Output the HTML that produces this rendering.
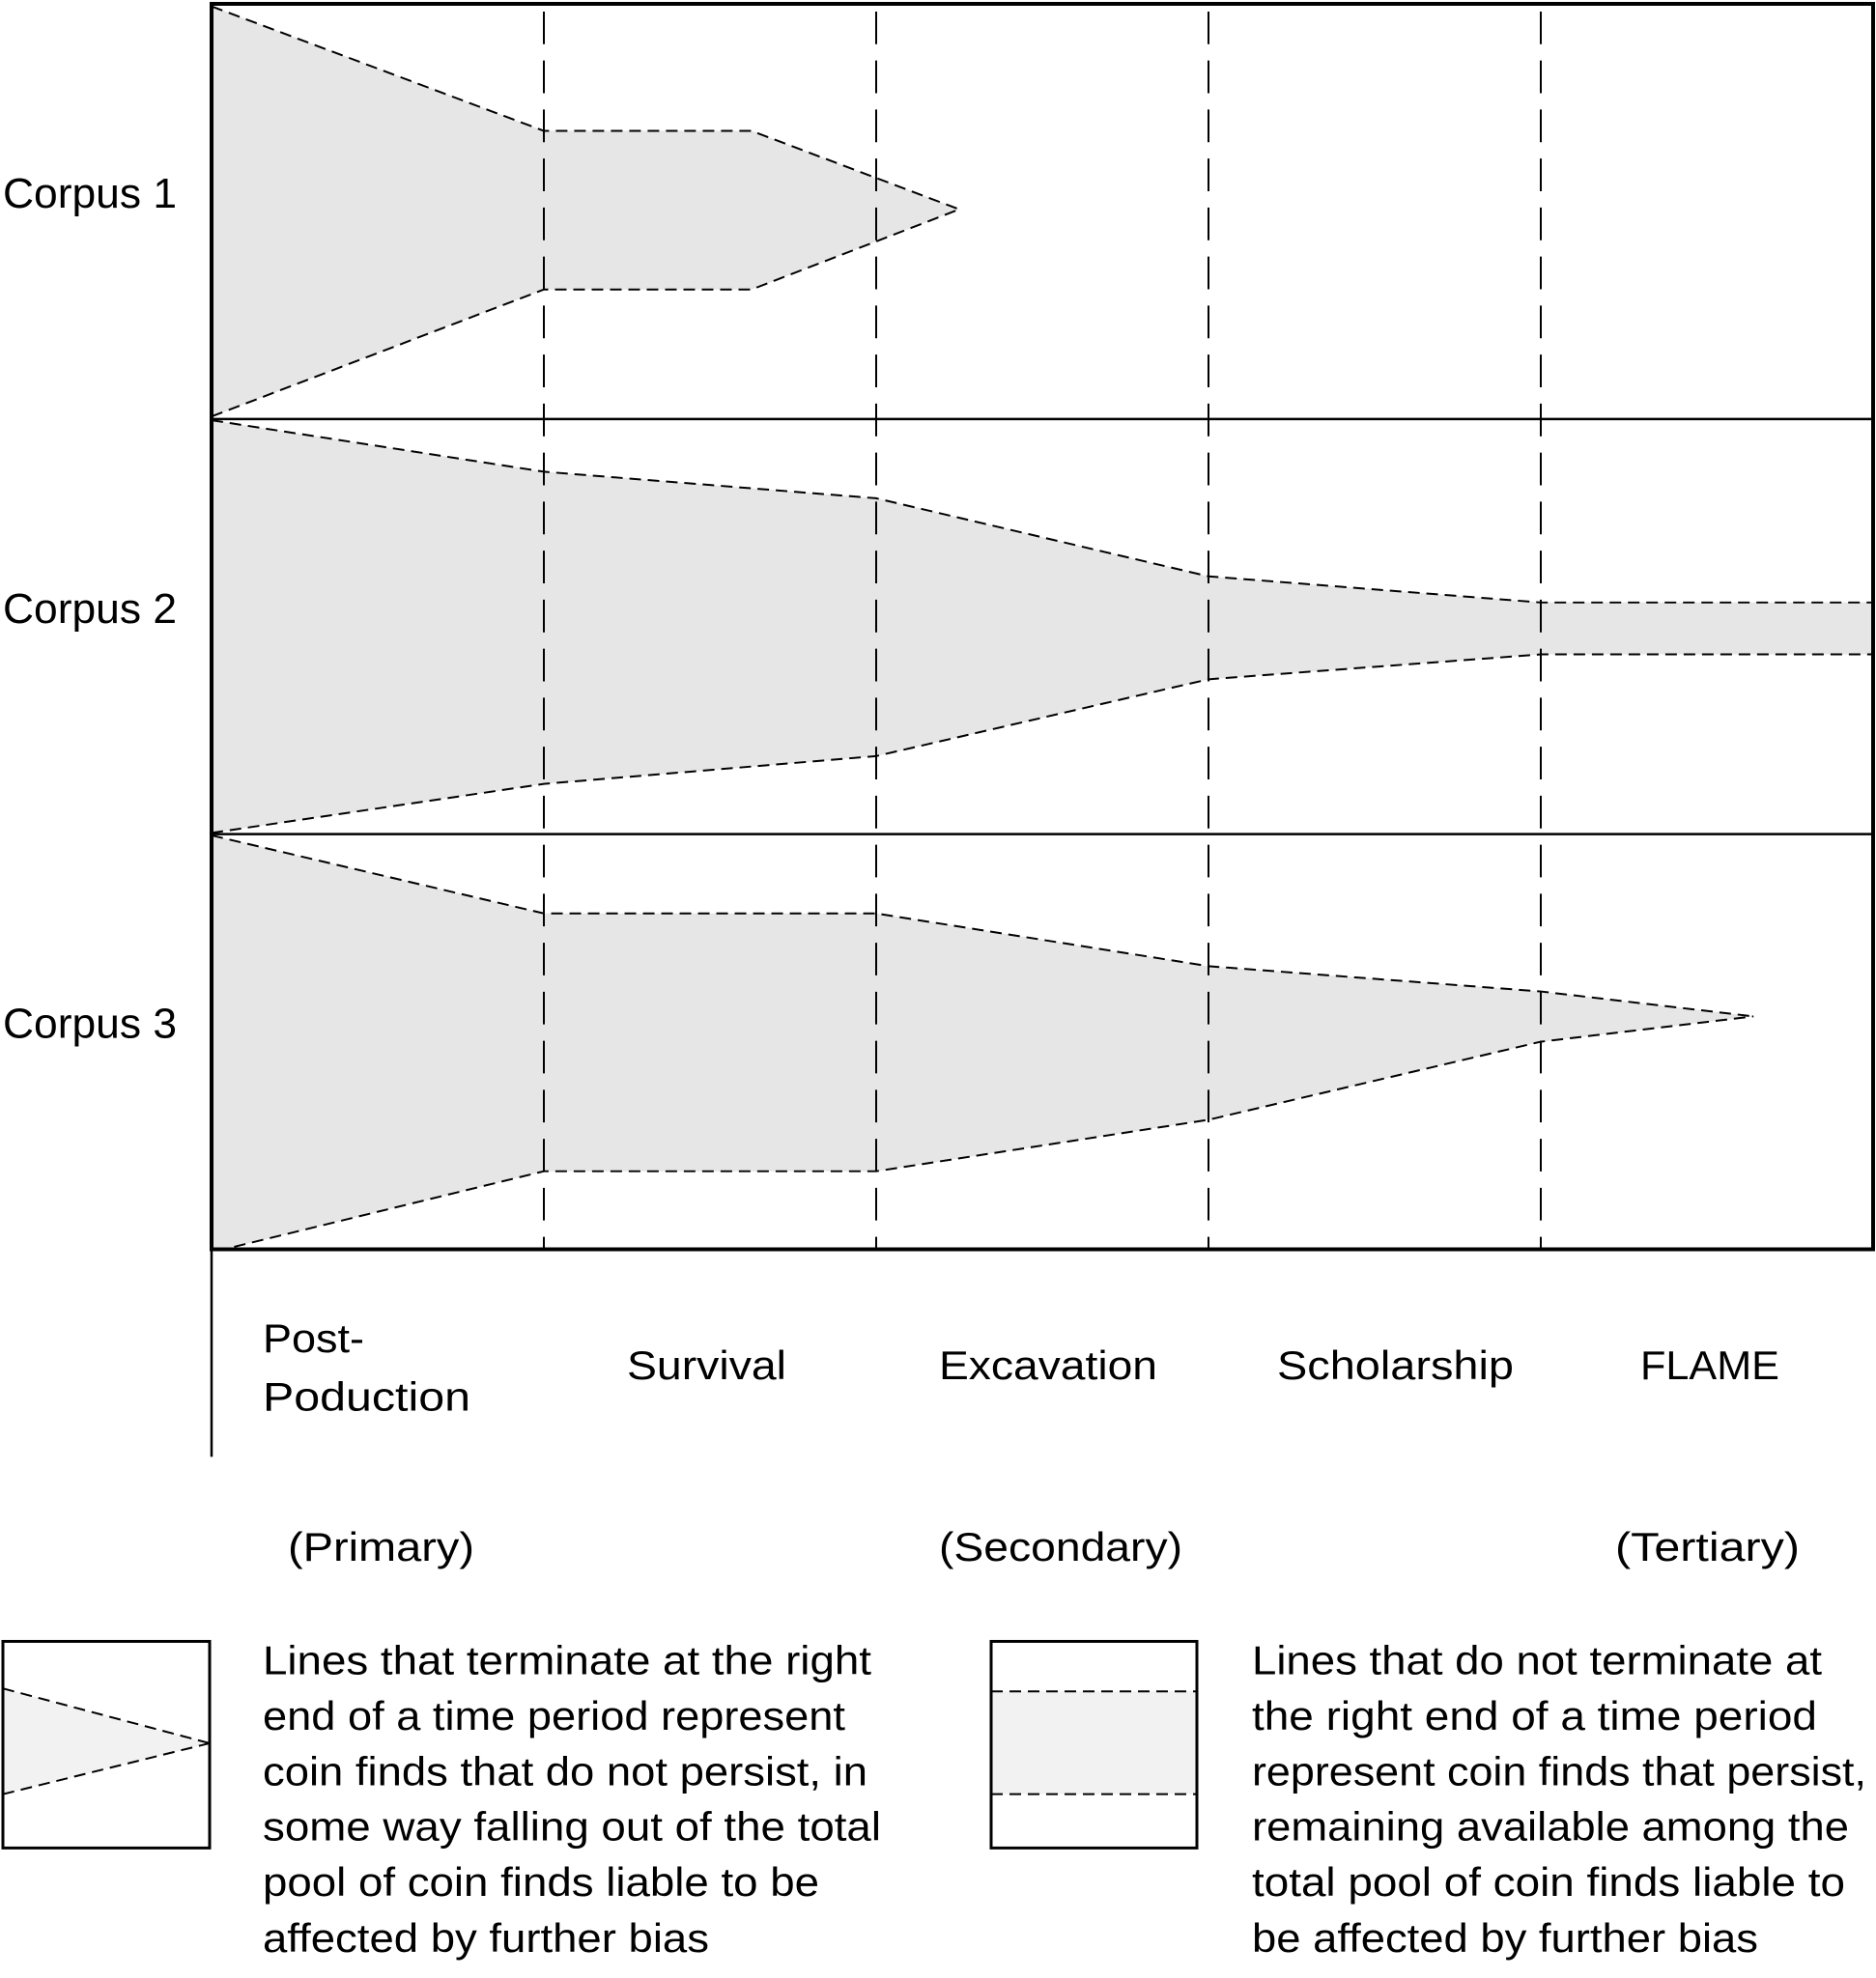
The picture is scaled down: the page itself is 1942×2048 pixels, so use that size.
<!DOCTYPE html>
<html><head><meta charset="utf-8"><style>
html,body{margin:0;padding:0;background:#fff}
svg{display:block}
text{font-family:"Liberation Sans",sans-serif;fill:#000}
</style></head><body>
<svg id="chart" width="1942" height="2048" viewBox="0 0 1942 2048" xmlns="http://www.w3.org/2000/svg">
<g transform="scale(1,0.995)">
<g id="fills"></g>
<g id="guides"></g>
<g id="lines"></g>
<g id="frame"></g>
<g id="labels"></g>
<g id="legend">
  <g>
    <polygon points="3,1757 217,1814 3,1867" fill="#f2f2f2"/>
    <line x1="3" y1="1757" x2="217" y2="1814" stroke="#000" stroke-width="2" stroke-dasharray="12 7"/>
    <line x1="3" y1="1867" x2="217" y2="1814" stroke="#000" stroke-width="2" stroke-dasharray="12 7"/>
    <rect x="3" y="1708" width="214" height="215" fill="none" stroke="#000" stroke-width="3"/>
  </g>
  <g>
    <rect x="1026" y="1760" width="213" height="107" fill="#f2f2f2"/>
    <line x1="1026" y1="1760" x2="1239" y2="1760" stroke="#000" stroke-width="2" stroke-dasharray="12 7"/>
    <line x1="1026" y1="1867" x2="1239" y2="1867" stroke="#000" stroke-width="2" stroke-dasharray="12 7"/>
    <rect x="1026" y="1708" width="213" height="215" fill="none" stroke="#000" stroke-width="3"/>
  </g>
  <g font-size="42">
    <text x="272" y="1742" textLength="630" lengthAdjust="spacingAndGlyphs">Lines that terminate at the right</text>
    <text x="272" y="1800" textLength="603" lengthAdjust="spacingAndGlyphs">end of a time period represent</text>
    <text x="272" y="1858" textLength="626" lengthAdjust="spacingAndGlyphs">coin finds that do not persist, in</text>
    <text x="272" y="1915" textLength="640" lengthAdjust="spacingAndGlyphs">some way falling out of the total</text>
    <text x="272" y="1973" textLength="576" lengthAdjust="spacingAndGlyphs">pool of coin finds liable to be</text>
    <text x="272" y="2031" textLength="462" lengthAdjust="spacingAndGlyphs">affected by further bias</text>
  </g>
  <g font-size="42">
    <text x="1296" y="1742" textLength="590" lengthAdjust="spacingAndGlyphs">Lines that do not terminate at</text>
    <text x="1296" y="1800" textLength="585" lengthAdjust="spacingAndGlyphs">the right end of a time period</text>
    <text x="1296" y="1858" textLength="636" lengthAdjust="spacingAndGlyphs">represent coin finds that persist,</text>
    <text x="1296" y="1915" textLength="618" lengthAdjust="spacingAndGlyphs">remaining available among the</text>
    <text x="1296" y="1973" textLength="614" lengthAdjust="spacingAndGlyphs">total pool of coin finds liable to</text>
    <text x="1296" y="2031" textLength="524" lengthAdjust="spacingAndGlyphs">be affected by further bias</text>
  </g>
</g>
</g>
</svg>
<script>
// Data
const stages = ["Post-Poduction", "Survival", "Excavation", "Scholarship", "FLAME"];
const corpora = ["Corpus 1", "Corpus 2", "Corpus 3"];
const c1X = [0, 1, 1.625, 2.25];
const c1XLower = [0, 1, 1.625, 2.25];
const c1Upper = [0.006, 0.306, 0.306, 0.495];
const c1Lower = [0.994, 0.688, 0.688, 0.495];
const c2X = [0, 1, 2, 3, 4, 5];
const c2XLower = [0, 1, 2, 3, 4, 5];
const c2Upper = [0.003, 0.127, 0.191, 0.379, 0.442, 0.442];
const c2Lower = [0.997, 0.879, 0.812, 0.627, 0.567, 0.567];
const c3X = [0, 1, 2, 3, 4, 4.64];
const c3XLower = [0.068, 1, 2, 3, 4, 4.64];
const c3Upper = [0.003, 0.191, 0.191, 0.318, 0.379, 0.439];
const c3Lower = [0.994, 0.812, 0.812, 0.688, 0.5, 0.439];

const NS = "http://www.w3.org/2000/svg";
const L = 219, R = 1939, T = 4, B = 1300;
const bandH = (B - T) / 3;
const xs = v => L + v * (R - L) / 5;
const ys = (band, f) => T + band * bandH + f * bandH;
function mk(tag, attrs, parent) {
  const e = document.createElementNS(NS, tag);
  for (const k in attrs) e.setAttribute(k, attrs[k]);
  parent.appendChild(e);
  return e;
}
const fills = document.getElementById('fills');
const lines = document.getElementById('lines');
const series = [[c1X, c1XLower, c1Upper, c1Lower], [c2X, c2XLower, c2Upper, c2Lower], [c3X, c3XLower, c3Upper, c3Lower]];
series.forEach((s, b) => {
  const [xu, xl, up, lo] = s;
  const upPts = xu.map((x, i) => xs(x) + ',' + ys(b, up[i]));
  const loPts = xl.map((x, i) => xs(x) + ',' + ys(b, lo[i]));
  const extra = xl[0] > 0 ? [xs(0) + ',' + ys(b, 1)] : [];
  const poly = mk('polygon', {points: upPts.concat(loPts.slice().reverse(), extra).join(' '), fill: '#e6e6e6'}, fills);
  
  
  const pu = mk('polyline', {points: upPts.join(' '), fill: 'none', stroke: '#000', 'stroke-width': 2, 'stroke-dasharray': '12 7'}, lines);
  
  
  const pl = mk('polyline', {points: loPts.join(' '), fill: 'none', stroke: '#000', 'stroke-width': 2, 'stroke-dasharray': '12 7'}, lines);
  
  
});
const guides = document.getElementById('guides');
for (let i = 1; i < 5; i++) {
  const g = mk('line', {x1: xs(i), x2: xs(i), y1: T + 8, y2: B, stroke: '#000', 'stroke-width': 2, 'stroke-dasharray': '34 17'}, guides);
  
  
}
const frame = document.getElementById('frame');
const fr = mk('rect', {x: L, y: T, width: R - L, height: B - T, fill: 'none', stroke: '#000', 'stroke-width': 4}, frame);


for (let b = 1; b < 3; b++) {
  const d = mk('line', {x1: L, x2: R, y1: T + b * bandH, y2: T + b * bandH, stroke: '#000', 'stroke-width': 2.5}, frame);
  
  
}
const stem = mk('line', {x1: L, x2: L, y1: B, y2: 1516, stroke: '#000', 'stroke-width': 2.5}, frame);



const labels = document.getElementById('labels');
corpora.forEach((c, b) => {
  const t = mk('text', {x: 3, y: ys(b, 0.5) - 4, 'font-size': 44, textLength: 180, lengthAdjust: 'spacingAndGlyphs'}, labels);
  t.textContent = c;
  
  
});
const stageLabelX = [272, 649, 972, 1322, 1698];
const stageLabelW = [215, 165, 226, 245, 144];
stages.forEach((s, i) => {
  if (i === 0) {
    const t1 = mk('text', {x: 272, y: 1407, 'font-size': 42, textLength: 105, lengthAdjust: 'spacingAndGlyphs'}, labels);
    t1.textContent = 'Post-';
    
    
    const t2 = mk('text', {x: 272, y: 1468, 'font-size': 42, textLength: 215, lengthAdjust: 'spacingAndGlyphs'}, labels);
    t2.textContent = 'Poduction';
    
    
  } else {
    const t = mk('text', {x: stageLabelX[i], y: 1435, 'font-size': 42, textLength: stageLabelW[i], lengthAdjust: 'spacingAndGlyphs'}, labels);
    t.textContent = s;
    
    
  }
});
const phases = ["(Primary)", "(Secondary)", "(Tertiary)"];
const phaseX = [298, 972, 1672];
const phaseW = [193, 252, 191];
phases.forEach((p, i) => {
  const t = mk('text', {x: phaseX[i], y: 1624, 'font-size': 42, textLength: phaseW[i], lengthAdjust: 'spacingAndGlyphs'}, labels);
  t.textContent = p;
  
  
});
</script>
</body></html>
